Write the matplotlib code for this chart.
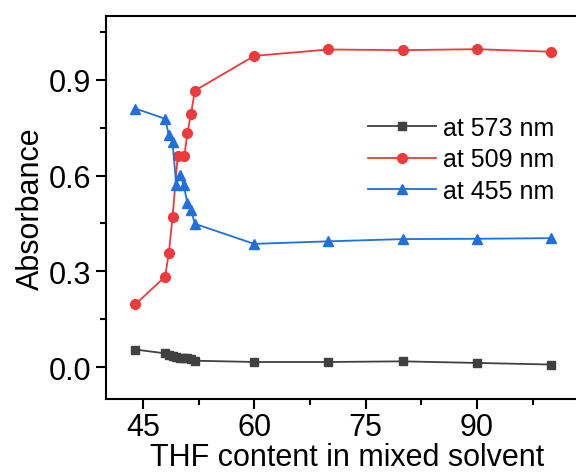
import numpy as np
import matplotlib.pyplot as plt
from matplotlib.ticker import MultipleLocator

plt.rcParams['font.family'] = ['Liberation Sans', 'DejaVu Sans']

# THF content (%) for each series
x_573 = [44, 48, 48.5, 49, 49.5, 50, 50.5, 51, 51.5, 52, 60, 70, 80, 90, 100]
y_573 = [0.055, 0.043, 0.038, 0.035, 0.032, 0.030, 0.029, 0.027, 0.024, 0.020,
         0.016, 0.016, 0.018, 0.013, 0.008]

x_509 = [44, 48, 48.5, 49, 49.7, 50.6, 51, 51.5, 52, 60, 70, 80, 90, 100]
y_509 = [0.197, 0.283, 0.357, 0.469, 0.662, 0.662, 0.733, 0.794, 0.866,
         0.975, 0.995, 0.993, 0.996, 0.988]

x_455 = [44, 48, 48.5, 49, 49.5, 50, 50.5, 51, 51.5, 52, 60, 70, 80, 90, 100]
y_455 = [0.810, 0.778, 0.728, 0.705, 0.571, 0.603, 0.571, 0.514, 0.493, 0.449,
         0.386, 0.394, 0.401, 0.402, 0.404]

fig = plt.figure(figsize=(5.76, 4.77), dpi=100)
ax = fig.add_axes([0.1835, 0.1614, 0.838, 0.803])

ax.plot(x_573, y_573, '-s', color='#404040', lw=1.3, ms=6, label='at 573 nm')
ax.plot(x_509, y_509, '-o', color='#ee3a3a', lw=1.3, ms=7, label='at 509 nm')
ax.plot(x_455, y_455, '-^', color='#1f6fdc', lw=1.3, ms=7, label='at 455 nm')

ax.set_xlim(40, 105)
ax.set_ylim(-0.1, 1.1)
ax.xaxis.set_minor_locator(MultipleLocator(7.5))
ax.yaxis.set_minor_locator(MultipleLocator(0.15))
ax.set_xticks([45, 60, 75, 90])
ax.set_yticks([0.0, 0.3, 0.6, 0.9])
ax.set_yticklabels(['0.0', '0.3', '0.6', '0.9'])

ax.tick_params(which='major', direction='out', length=7, width=1.5, labelsize=22)
ax.tick_params(axis='x', which='major', pad=2)
ax.tick_params(which='minor', direction='out', length=4, width=1.5)
for s in ax.spines.values():
    s.set_linewidth(1.5)

ax.set_xlabel('THF content in mixed solvent', fontsize=22, labelpad=0)
ax.set_ylabel('Absorbance', fontsize=22, labelpad=2)

ax.legend(loc='upper left', bbox_to_anchor=(0.523, 0.765), frameon=False,
          fontsize=18, handlelength=2.7, labelspacing=0.3, handletextpad=0.3,
          borderaxespad=0)

fig.savefig('out.png', dpi=100)
